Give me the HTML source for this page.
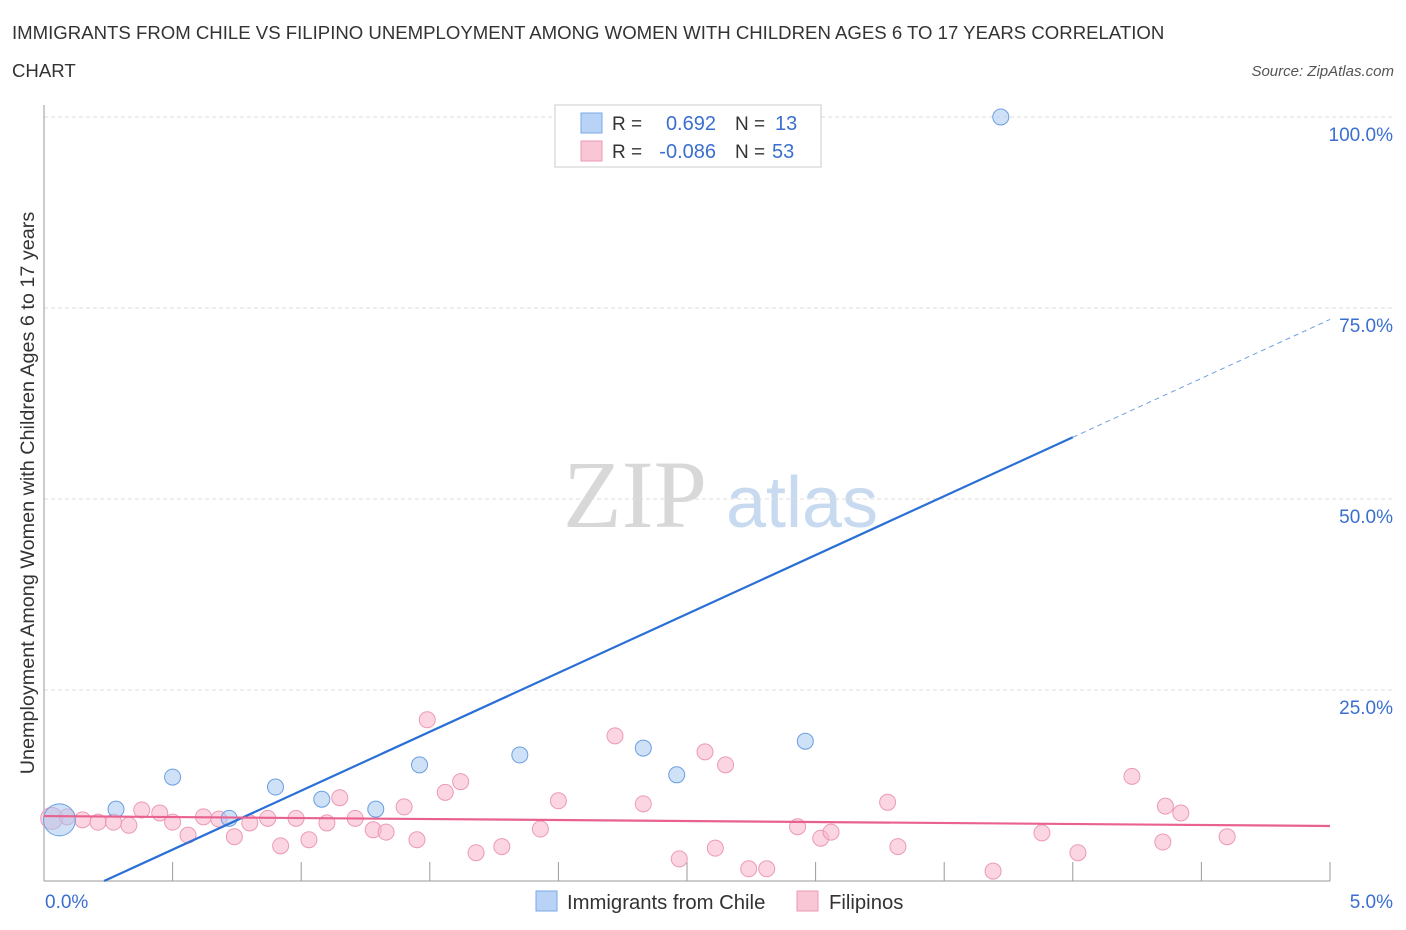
<!DOCTYPE html>
<html><head><meta charset="utf-8"><style>
body{margin:0;width:1406px;height:930px;background:#fff;font-family:"Liberation Sans",sans-serif;overflow:hidden}
svg{position:absolute;left:0;top:0}
</style></head><body>
<svg id="chart" width="1406" height="930">
<text x="12" y="39" font-size="18.6" fill="#333">IMMIGRANTS FROM CHILE VS FILIPINO UNEMPLOYMENT AMONG WOMEN WITH CHILDREN AGES 6 TO 17 YEARS CORRELATION</text>
<text x="12" y="77" font-size="18.6" fill="#333">CHART</text>
<text x="1394" y="76" font-size="15" fill="#555" font-style="italic" text-anchor="end">Source: ZipAtlas.com</text>
<text transform="translate(34,493) rotate(-90)" font-size="19.8" fill="#333" text-anchor="middle">Unemployment Among Women with Children Ages 6 to 17 years</text>
<g>
<text x="635" y="527" font-size="96" fill="#d8d8d8" text-anchor="middle" font-family="Liberation Serif,serif">ZIP</text>
<text x="802" y="527" font-size="72" fill="#c8daf0" text-anchor="middle">atlas</text>
</g>
<g id="grid"></g><g id="axes"></g><g id="pts"></g><g id="lines"></g>
<g>
<rect x="555" y="105" width="266" height="62" fill="#fff" stroke="#ccc"/>
<rect x="581" y="113" width="21" height="20" fill="#b8d3f5" stroke="#7aa8e8"/>
<rect x="581" y="141" width="21" height="20" fill="#f9c6d6" stroke="#ec9ab4"/>
<text x="612" y="130" font-size="19" fill="#333">R =</text>
<text x="716" y="130" font-size="20" fill="#3a6fcf" text-anchor="end">0.692</text>
<text x="735" y="130" font-size="19" fill="#333">N =</text>
<text x="775" y="130" font-size="20" fill="#3a6fcf">13</text>
<text x="612" y="158" font-size="19" fill="#333">R =</text>
<text x="716" y="158" font-size="20" fill="#3a6fcf" text-anchor="end">-0.086</text>
<text x="735" y="158" font-size="19" fill="#333">N =</text>
<text x="772" y="158" font-size="20" fill="#3a6fcf">53</text>
</g>
<g>
<rect x="536" y="891" width="21" height="20" fill="#b8d3f5" stroke="#7aa8e8"/>
<text x="567" y="909" font-size="20.3" fill="#333">Immigrants from Chile</text>
<rect x="797" y="891" width="21" height="20" fill="#f9c6d6" stroke="#ec9ab4"/>
<text x="829" y="909" font-size="20.3" fill="#333">Filipinos</text>
</g>
</svg>
<script>
const yTicks=[25,50,75,100];
const yTickLabels=["25.0%","50.0%","75.0%","100.0%"];
const chileX=[0.06,0.28,0.50,0.72,0.90,1.08,1.29,1.46,1.85,2.33,2.46,2.96,3.72];
const chileY=[8.0,9.4,13.6,8.2,12.3,10.7,9.4,15.2,16.5,17.4,13.9,18.3,100];
const filX=[0.03,0.09,0.15,0.21,0.27,0.33,0.38,0.45,0.50,0.56,0.62,0.68,0.74,0.80,0.87,0.92,0.98,1.03,1.10,1.15,1.21,1.28,1.33,1.40,1.45,1.49,1.56,1.62,1.68,1.78,1.93,2.00,2.22,2.33,2.47,2.57,2.61,2.65,2.74,2.81,2.93,3.02,3.06,3.28,3.32,3.69,3.88,4.02,4.23,4.35,4.36,4.42,4.60];
const filY=[8.2,8.4,8.0,7.7,7.7,7.3,9.3,8.9,7.7,6.0,8.4,8.1,5.8,7.6,8.2,4.6,8.2,5.4,7.6,10.9,8.2,6.7,6.4,9.7,5.4,21.1,11.6,13.0,3.7,4.5,6.8,10.5,19.0,10.1,2.9,16.9,4.3,15.2,1.6,1.6,7.1,5.6,6.4,10.3,4.5,1.3,6.3,3.7,13.7,5.1,9.8,8.9,5.8];
const chileFit=[-3.6,73.5];
const filFit=[8.5,7.2];
const xs=v=>44+v*257.2, ys=v=>881-v*7.64;
const NS="http://www.w3.org/2000/svg";
function mk(p,t,a){const e=document.createElementNS(NS,t);for(const k in a)e.setAttribute(k,a[k]);p.appendChild(e);return e;}
const grid=document.getElementById('grid'),axes=document.getElementById('axes'),pts=document.getElementById('pts'),lines=document.getElementById('lines');
yTicks.forEach((t,i)=>{
 const l=mk(grid,'line',{x1:44,x2:1394,y1:ys(t),y2:ys(t),stroke:'#ddd','stroke-dasharray':'4,3'});
 
 
 const tx=mk(grid,'text',{x:1393,y:ys(t)+24,'font-size':19,fill:'#3a6fcf','text-anchor':'end'});tx.textContent=yTickLabels[i];
 
 
});
let a=mk(axes,'line',{x1:44,x2:44,y1:105,y2:881,stroke:'#999'});


a=mk(axes,'line',{x1:44,x2:1330,y1:881,y2:881,stroke:'#999'});


for(let i=1;i<=10;i++){const t=mk(axes,'line',{x1:xs(i*0.5),x2:xs(i*0.5),y1:862,y2:881,stroke:'#999'});
 
 }
let t0=mk(axes,'text',{x:45,y:908,'font-size':19,fill:'#3a6fcf'});t0.textContent='0.0%';


let t1=mk(axes,'text',{x:1393,y:908,'font-size':19,fill:'#3a6fcf','text-anchor':'end'});t1.textContent='5.0%';


filX.forEach((x,i)=>{const c=mk(pts,'circle',{cx:xs(x),cy:ys(filY[i]),r:i==0?11:8,fill:'rgba(247,180,202,0.55)',stroke:'#ec9ab4','stroke-width':1});
 
 });
chileX.forEach((x,i)=>{const c=mk(pts,'circle',{cx:xs(x),cy:ys(chileY[i]),r:i==0?16:8,fill:'rgba(168,200,240,0.55)',stroke:'#6a9fe0','stroke-width':1});
 
 });
const yb=x=>chileFit[0]+(chileFit[1]-chileFit[0])*x/5;
const x0=-chileFit[0]/(chileFit[1]-chileFit[0])*5;
let b=mk(lines,'line',{x1:xs(x0),y1:ys(0),x2:xs(4.0),y2:ys(yb(4.0)),stroke:'#2a6fd6','stroke-width':2.2});


b=mk(lines,'line',{x1:xs(4.0),y1:ys(yb(4.0)),x2:xs(5),y2:ys(yb(5)),stroke:'#6a9fe0','stroke-width':1,'stroke-dasharray':'5,4'});


b=mk(lines,'line',{x1:xs(0),y1:ys(filFit[0]),x2:xs(5),y2:ys(filFit[1]),stroke:'#e9628f','stroke-width':2.2});


</script>
</body></html>
